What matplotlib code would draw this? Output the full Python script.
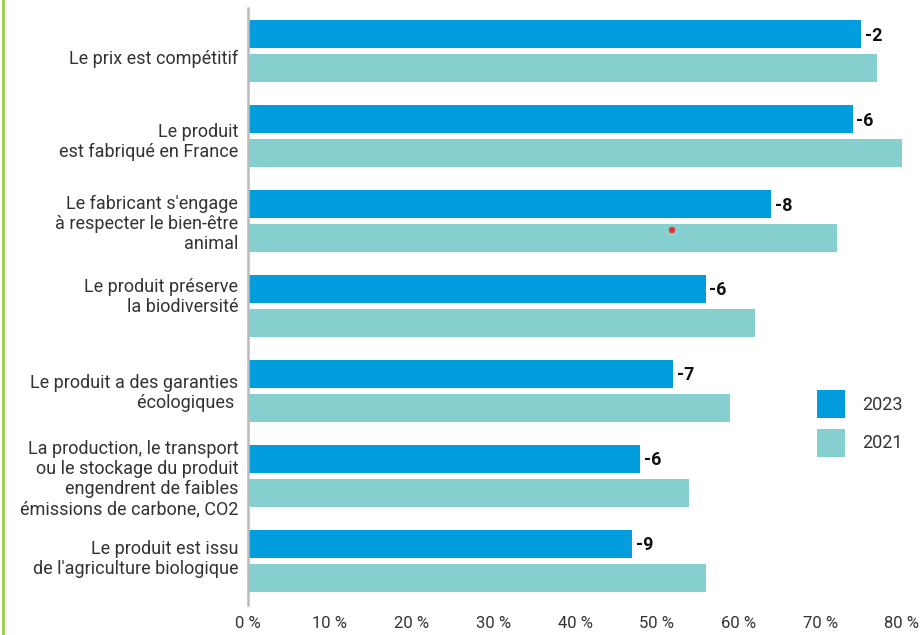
import matplotlib
matplotlib.use("Agg")
import matplotlib.pyplot as plt
from matplotlib.lines import Line2D
from matplotlib.patches import Ellipse
from matplotlib.transforms import ScaledTranslation
import numpy as np

categories = [
    "Le prix est compétitif",
    "Le produit\nest fabriqué en France",
    "Le fabricant s'engage\nà respecter le bien-être\nanimal",
    "Le produit préserve\nla biodiversité",
    "Le produit a des garanties\nécologiques ",
    "La production, le transport\nou le stockage du produit\nengendrent de faibles\némissions de carbone, CO2",
    "Le produit est issu\nde l'agriculture biologique",
]
values_2023 = [75, 74, 64, 56, 52, 48, 47]
values_2021 = [77, 80, 72, 62, 59, 54, 56]
diff_labels = ["-2", "-6", "-8", "-6", "-7", "-6", "-9"]
x_ticks = [0, 10, 20, 30, 40, 50, 60, 70, 80]
x_tick_labels = ["0 %", "10 %", "20 %", "30 %", "40 %",
                 "50 %", "60 %", "70 %", "80 %"]

c2023 = "#019ddd"
c2021 = "#85cfcf"
txt = "#333333"

plt.rcParams["font.family"] = ["Roboto", "DejaVu Sans"]

W, H = 923, 635
fig = plt.figure(figsize=(W / 100, H / 100), dpi=100)
ax = fig.add_axes([248 / W, 1 - 605 / H, (902 - 248) / W, (605 - 8) / H])

y = np.arange(len(categories))
h = 0.33
off = 0.2
b1 = ax.barh(y - off, values_2023, height=h, color=c2023, label="2023")
b2 = ax.barh(y + off, values_2021, height=h, color=c2021, label="2021")

for yi, v, lab in zip(y, values_2023, diff_labels):
    ax.annotate(lab, (v, yi - off), xytext=(2.5, -1), textcoords="offset points",
                va="center", ha="left", fontsize=13, fontweight="bold", color="#111111")

ax.set_xlim(0, 80)
ax.set_ylim(6.52, -0.51)
ax.set_xticks(x_ticks)
ax.set_xticklabels(x_tick_labels, fontsize=12, color=txt)
ax.set_yticks(y)
ax.set_yticklabels(categories, fontsize=13, color=txt, linespacing=1.15)
ax.tick_params(axis="both", length=0)
ax.tick_params(axis="x", pad=8)
ax.tick_params(axis="y", pad=7)

# small vertical nudges of the category labels (pixels, positive = down)
label_nudge_px = [6, 3, 0, -12, -1, 0, -5]
for lbl, dy in zip(ax.get_yticklabels(), label_nudge_px):
    lbl.set_transform(lbl.get_transform() +
                      ScaledTranslation(0, -dy / 100, fig.dpi_scale_trans))

for s in ["top", "right", "bottom"]:
    ax.spines[s].set_visible(False)
ax.spines["left"].set_color("#bbbbbb")
ax.spines["left"].set_linewidth(1.8)

ax.legend(handles=[b1, b2], labels=["2023", "2021"], loc="upper left",
          bbox_to_anchor=(817 / W, 1 - 390 / H), bbox_transform=fig.transFigure,
          frameon=False, fontsize=13, handlelength=1.55, handleheight=2.0,
          labelspacing=0.6, handletextpad=0.95, borderpad=0, borderaxespad=0,
          labelcolor=txt)

fig.add_artist(Line2D([3 / W, 3 / W], [0, 1], color="#9ccc44", lw=2,
                      transform=fig.transFigure))
fig.add_artist(Ellipse((672 / W, 1 - 230 / H), 5 / W, 5 / H, color="#e83030",
                       transform=fig.transFigure))

fig.savefig("out.png", dpi=100)
